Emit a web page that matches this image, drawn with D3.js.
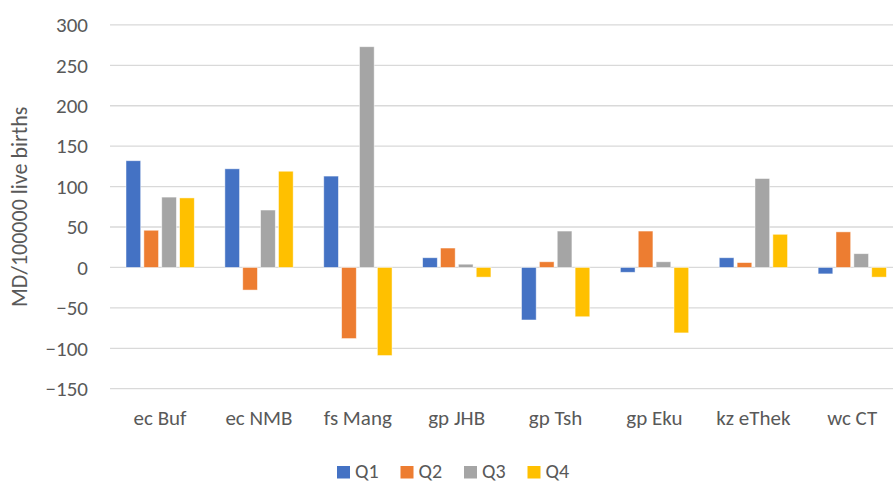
<!DOCTYPE html>
<html>
<head>
<meta charset="utf-8">
<script src="https://cdn.jsdelivr.net/npm/d3@7"></script>
<style>
  html, body { margin: 0; padding: 0; background: #fff; overflow: hidden; }
  svg { display: block; }
  text { font-family: Calibri, Carlito, Lato, "Open Sans", sans-serif; fill: #595959; }
</style>
</head>
<body>
<svg id="chart" width="893" height="482"></svg>
<script>
// Districts and quarterly MD rates per 100 000 live births
const categories = ["ec Buf", "ec NMB", "fs Mang", "gp JHB", "gp Tsh", "gp Eku", "kz eThek", "wc CT"];
const quarters = ["Q1", "Q2", "Q3", "Q4"];
const q1 = [132, 122, 113, 12, -65, -6, 12, -8];
const q2 = [46, -28, -88, 24, 7, 45, 6, 44];
const q3 = [87, 71, 273, 4, 45, 7, 110, 17];
const q4 = [86, 119, -109, -12, -61, -81, 41, -12];
const yTicks = [-150, -100, -50, 0, 50, 100, 150, 200, 250, 300];
const colors = ["#4472C4", "#ED7D31", "#A5A5A5", "#FFC000"];

const seriesValues = [q1, q2, q3, q4];
const rows = categories.map((c, i) => ({
  category: c,
  values: quarters.map((q, k) => ({ quarter: q, value: seriesValues[k][i] }))
}));

const svg = d3.select("#chart");
const fontStack = "Calibri, Carlito, Lato, 'Open Sans', sans-serif";

const y = d3.scaleLinear().domain([-150, 300]).range([388.7, 24.9]);
const x0 = d3.scaleBand().domain(categories).range([110.6, 901.6]).padding(0);
const x1 = d3.scaleBand().domain(quarters).range([15.4, 83.7]).paddingInner(0.178).paddingOuter(0);
const color = d3.scaleOrdinal().domain(quarters).range(colors);

// horizontal gridlines
svg.append("g")
  .selectAll("line")
  .data(yTicks)
  .join("line")
  .attr("x1", 110)
  .attr("x2", 893)
  .attr("y1", d => y(d))
  .attr("y2", d => y(d))
  .attr("stroke", "#D9D9D9")
  .attr("stroke-width", 1.3);

// y axis tick labels
const yAxis = d3.axisLeft(y).tickValues(yTicks).tickSize(0).tickPadding(0);
const yg = svg.append("g").attr("transform", "translate(88,0)").call(yAxis);
yg.select(".domain").remove();
yg.selectAll("text")
  .attr("fill", "#595959")
  .style("font-size", "21px")
  .style("font-family", fontStack);

// bars
const groups = svg.append("g")
  .selectAll("g")
  .data(rows)
  .join("g")
  .attr("transform", d => `translate(${x0(d.category)},0)`);

groups.selectAll("rect")
  .data(d => d.values)
  .join("rect")
  .attr("x", d => x1(d.quarter))
  .attr("width", x1.bandwidth())
  .attr("y", d => y(Math.max(0, d.value)))
  .attr("height", d => Math.abs(y(d.value) - y(0)))
  .attr("fill", d => color(d.quarter))
  .attr("stroke", "#ffffff")
  .attr("stroke-opacity", 0.6)
  .attr("stroke-width", 0.8);

// category labels
const xAxis = d3.axisBottom(x0).tickSize(0).tickPadding(0);
const xg = svg.append("g").attr("transform", "translate(0,410)").call(xAxis);
xg.select(".domain").remove();
xg.selectAll("text")
  .attr("fill", "#595959")
  .attr("dy", "0.71em")
  .style("font-size", "21px")
  .style("font-family", fontStack);

// y axis title
svg.append("text")
  .attr("transform", `translate(27,${(y(300) + y(-150)) / 2}) rotate(-90)`)
  .attr("text-anchor", "middle")
  .style("font-size", "22px")
  .text("MD/100000 live births");

// legend
const legend = svg.append("g")
  .selectAll("g")
  .data(quarters)
  .join("g")
  .attr("transform", (d, i) => `translate(${337 + i * 63.5},464)`);
legend.append("rect")
  .attr("y", 2)
  .attr("width", 13)
  .attr("height", 12.5)
  .attr("fill", d => color(d));
legend.append("text")
  .attr("x", 18)
  .attr("y", 14)
  .style("font-size", "20px")
  .text(d => d);
</script>
</body>
</html>
